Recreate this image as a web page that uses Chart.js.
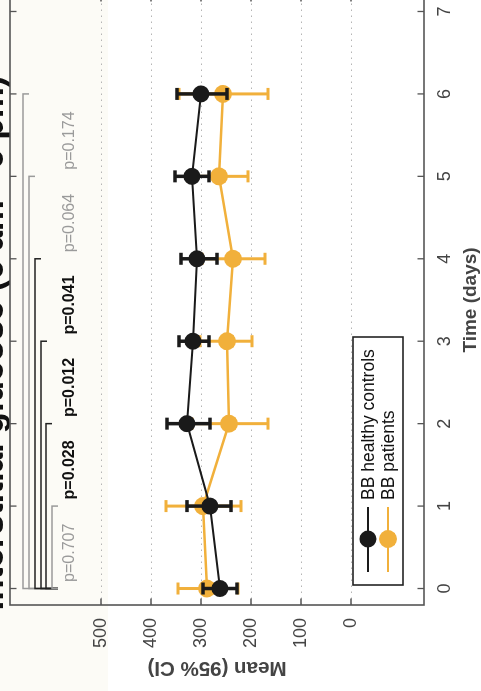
<!DOCTYPE html>
<html><head><meta charset="utf-8">
<script src="https://cdn.jsdelivr.net/npm/chart.js@4.4.1/dist/chart.umd.min.js"></script>
<style>
html,body{margin:0;padding:0;width:481px;height:691px;overflow:hidden;background:linear-gradient(to right,#fcfbf6 0,#fcfbf6 108px,#ffffff 108px);}
#wrap{position:absolute;left:0;top:0;width:720px;height:500px;transform-origin:0 0;transform:translate(-20px,691px) rotate(-90deg);}
</style></head><body>
<div id="wrap"><canvas id="c" width="720" height="500"></canvas></div>
<script>
// ---- data ----
const days = [0, 1, 2, 3, 4, 5, 6];
const xTicks = [0, 1, 2, 3, 4, 5, 6, 7];
const yTicks = [0, 100, 200, 300, 400, 500];
const controlsMean  = [262, 282, 328, 316, 308, 318, 300];
const controlsLower = [228, 240, 282, 284, 268, 284, 248];
const controlsUpper = [296, 328, 368, 344, 340, 352, 348];
const patientsMean  = [288, 296, 244, 248, 236, 264, 256];
const patientsLower = [226, 220, 166, 198, 172, 206, 166];
const patientsUpper = [346, 370, 318, 302, 298, 326, 344];
const bracketDays   = [1, 2, 3, 4, 5, 6];
const bracketLevels = [598, 610, 620, 632, 644, 656];
const bracketBase   = 586;
const pLabels       = ['p=0.707', 'p=0.028', 'p=0.012', 'p=0.041', 'p=0.064', 'p=0.174'];
const pSignificant  = [false, true, true, true, false, false];
const pLabelY       = 562;
const seriesNames   = ['BB healthy controls', 'BB patients'];

const BLACK = '#1a1a1a', ORANGE = '#f1b03b', GRAY = '#9a9a9a';
const FAM = "'Liberation Sans', Arial, Helvetica, sans-serif";
Chart.defaults.font.family = FAM;

const errLow = [controlsLower, patientsLower];
const errHigh = [controlsUpper, patientsUpper];
const errColor = [BLACK, ORANGE];
const errWidth = [3.5, 3];

const helper = {
  id: 'helper',
  beforeDatasetsDraw(chart) {
    const {ctx, chartArea: ca, scales: {y}} = chart;
    ctx.save();
    ctx.strokeStyle = '#b5b5b5';
    ctx.lineWidth = 1.2;
    ctx.setLineDash([1.5, 4.5]);
    yTicks.forEach(t => {
      const py = Math.round(y.getPixelForValue(t)) + 0.5;
      ctx.beginPath(); ctx.moveTo(ca.left, py); ctx.lineTo(ca.right, py); ctx.stroke();
    });
    ctx.restore();
  },
  beforeDatasetDraw(chart, args) {
    const i = args.index;
    const {ctx, scales: {x, y}} = chart;
    ctx.save();
    ctx.strokeStyle = errColor[i];
    ctx.lineWidth = errWidth[i];
    days.forEach((d, k) => {
      const px = x.getPixelForValue(d);
      const p1 = y.getPixelForValue(errLow[i][k]);
      const p2 = y.getPixelForValue(errHigh[i][k]);
      ctx.beginPath();
      ctx.moveTo(px, p1); ctx.lineTo(px, p2);
      ctx.moveTo(px - 6, p1); ctx.lineTo(px + 6, p1);
      ctx.moveTo(px - 6, p2); ctx.lineTo(px + 6, p2);
      ctx.stroke();
    });
    ctx.restore();
  },
  afterDraw(chart) {
    const {ctx, chartArea: ca, scales: {x, y}} = chart;
    ctx.save();
    // frame
    ctx.strokeStyle = '#555';
    ctx.lineWidth = 1.6;
    ctx.strokeRect(ca.left, ca.top, ca.right - ca.left, ca.bottom - ca.top);
    // inward ticks
    ctx.lineWidth = 1.3;
    ctx.beginPath();
    xTicks.forEach(t => {
      const px = x.getPixelForValue(t);
      ctx.moveTo(px, ca.bottom); ctx.lineTo(px, ca.bottom - 6.5);
      ctx.moveTo(px, ca.top); ctx.lineTo(px, ca.top + 6.5);
    });
    yTicks.forEach(t => {
      const py = y.getPixelForValue(t);
      ctx.moveTo(ca.left, py); ctx.lineTo(ca.left + 6.5, py);
      ctx.moveTo(ca.right, py); ctx.lineTo(ca.right - 6.5, py);
    });
    ctx.stroke();
    // brackets (draw from widest to narrowest)
    ctx.lineWidth = 1.5;
    for (let k = bracketDays.length - 1; k >= 0; k--) {
      ctx.strokeStyle = pSignificant[k] ? '#222' : GRAY;
      const x0 = x.getPixelForValue(0), x1 = x.getPixelForValue(bracketDays[k]);
      const yl = y.getPixelForValue(bracketLevels[k]);
      ctx.beginPath();
      ctx.moveTo(x0, y.getPixelForValue(bracketBase));
      ctx.lineTo(x0, yl);
      ctx.lineTo(x1, yl);
      ctx.lineTo(x1, y.getPixelForValue(bracketLevels[k] - 12));
      ctx.stroke();
    }
    // p labels
    ctx.textBaseline = 'middle';
    ctx.textAlign = 'left';
    pLabels.forEach((s, k) => {
      ctx.font = (pSignificant[k] ? 'bold ' : '') + '16px ' + FAM;
      ctx.fillStyle = pSignificant[k] ? '#111' : GRAY;
      ctx.fillText(s, x.getPixelForValue(bracketDays[k] - 0.92), y.getPixelForValue(pLabelY));
    });
    // legend
    const lx = ca.left + 20, ly = ca.top + 343, lw = 248, lh = 50;
    ctx.fillStyle = '#fff';
    ctx.fillRect(lx, ly, lw, lh);
    ctx.strokeStyle = '#222';
    ctx.lineWidth = 1.6;
    ctx.strokeRect(lx, ly, lw, lh);
    const cols = [BLACK, ORANGE], rads = [8.5, 9];
    seriesNames.forEach((name, k) => {
      const cy = ly + 15 + k * 20;
      ctx.strokeStyle = cols[k];
      ctx.lineWidth = 2;
      ctx.beginPath(); ctx.moveTo(lx + 13, cy); ctx.lineTo(lx + 78, cy); ctx.stroke();
      ctx.fillStyle = cols[k];
      ctx.beginPath(); ctx.arc(lx + 46, cy, rads[k], 0, Math.PI * 2); ctx.fill();
      ctx.fillStyle = '#111';
      ctx.font = '17.5px ' + FAM;
      ctx.textAlign = 'left';
      ctx.fillText(name, lx + 85, cy + 1);
    });
    ctx.restore();
  }
};

new Chart(document.getElementById('c'), {
  type: 'line',
  data: {
    datasets: [
      {
        label: seriesNames[0],
        data: days.map((d, i) => ({x: d, y: controlsMean[i]})),
        borderColor: BLACK, backgroundColor: BLACK,
        borderWidth: 2, pointRadius: 8.5, pointBorderWidth: 0, pointHoverRadius: 8.5, tension: 0
      },
      {
        label: seriesNames[1],
        data: days.map((d, i) => ({x: d, y: patientsMean[i]})),
        borderColor: ORANGE, backgroundColor: ORANGE,
        borderWidth: 2.5, pointRadius: 9, pointBorderWidth: 0, pointHoverRadius: 9, tension: 0
      }
    ]
  },
  options: {
    responsive: false,
    animation: false,
    devicePixelRatio: 1,
    events: [],
    layout: {padding: {left: 0, right: 24, top: 0, bottom: 0}},
    plugins: {
      legend: {display: false},
      tooltip: {enabled: false},
      title: {
        display: true,
        text: 'Interstitial glucose (6 am - 6 pm)',
        color: '#111',
        font: {size: 35, weight: 'bold', lineHeight: 0.6},
        padding: {top: 3, bottom: 6}
      }
    },
    scales: {
      x: {
        type: 'linear', min: -0.2, max: 7.2,
        grid: {display: false, drawTicks: false},
        border: {display: false},
        afterBuildTicks: s => { s.ticks = xTicks.map(v => ({value: v})); },
        afterFit: s => { s.height = 56; },
        ticks: {font: {size: 18}, color: '#444', padding: 10, autoSkip: false, maxRotation: 0},
        title: {display: true, text: 'Time (days)', color: '#444', font: {size: 19, weight: 'bold', lineHeight: 1}, padding: 0}
      },
      y: {
        type: 'linear', min: -146, max: 682,
        grid: {display: false, drawTicks: false},
        border: {display: false},
        afterBuildTicks: s => { s.ticks = yTicks.map(v => ({value: v})); },
        afterFit: s => { s.width = 86; },
        ticks: {font: {size: 18}, color: '#444', padding: 13},
        title: {display: true, text: 'Mean (95% CI)', color: '#444', font: {size: 20.5, weight: 'bold', lineHeight: 1}, padding: {top: 13, bottom: 13}}
      }
    }
  },
  plugins: [helper]
});
</script>
</body></html>
